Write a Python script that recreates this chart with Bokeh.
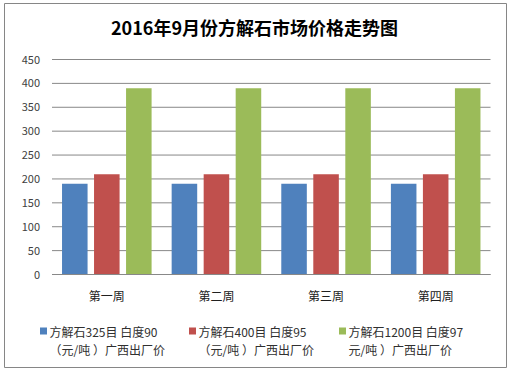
from bokeh.plotting import figure
from bokeh.models import Range1d, ColumnDataSource
from bokeh.core.properties import value
from bokeh.embed import file_html
from bokeh.resources import INLINE

# ---- data ----
categories = ["第一周", "第二周", "第三周", "第四周"]
legend_line1 = ["方解石325目 白度90", "方解石400目 白度95", "方解石1200目 白度97"]
legend_line2 = ["（元/吨 ）广西出厂价", "（元/吨 ）广西出厂价", "元/吨 ）广西出厂价"]
s325 = [190, 190, 190, 190]
s400 = [210, 210, 210, 210]
s1200 = [390, 390, 390, 390]
y_ticks = [0, 50, 100, 150, 200, 250, 300, 350, 400, 450]
title_text = "2016年9月份方解石市场价格走势图"

colors = ["#4F81BD", "#C0504D", "#9BBB59"]
FONT = "Noto Sans CJK SC"
GRID = "#888888"

# ---- layout (page pixels) ----
OX, OY = 4, 3            # figure offset in page (border position)
W, H = 503, 365          # figure size; its outline is the chart border
PX0, PX1 = 51.5, 490.0   # page x of category axis start / end
PY0, PY1 = 274.0, 59.0   # page y of value 0 / 450
ppx = (PX1 - PX0) / len(categories)
ppy = (PY0 - PY1) / 450.0

def X(px):
    return (px - PX0) / ppx

def Y(py):
    return (PY0 - py) / ppy

p = figure(width=W, height=H, output_backend="svg", toolbar_location=None,
           x_range=Range1d(X(OX), X(OX + W)), y_range=Range1d(Y(OY + H), Y(OY)),
           x_axis_location=None, y_axis_location=None,
           min_border=0, min_border_left=0, min_border_right=0,
           min_border_top=0, min_border_bottom=0,
           styles={"margin-left": f"{OX}px", "margin-top": f"{OY}px"})
p.grid.visible = False
p.outline_line_color = "#868686"
p.outline_line_width = 1
p.background_fill_color = "white"
p.border_fill_color = "white"

# grid lines at the value ticks across the category extent
p.segment(x0=0, x1=len(categories), y0=y_ticks, y1=y_ticks,
          line_color=GRID, line_width=1)

# bars
xc = [i + 0.5 for i in range(len(categories))]
bw = 0.233
offs = [-0.292, 0.0, 0.292]
for k, vals in enumerate([s325, s400, s1200]):
    src = ColumnDataSource(dict(x=[c + offs[k] for c in xc], top=vals))
    p.vbar(x="x", top="top", bottom=0, width=bw, source=src,
           fill_color=colors[k], line_color=None)

# category axis line
p.segment(x0=[0], x1=[len(categories)], y0=[0], y1=[0], line_color=GRID, line_width=1)

# value tick labels
p.text(x=[0] * len(y_ticks), y=y_ticks, text=[str(t) for t in y_ticks],
       x_offset=-12, text_align="right", text_baseline="middle",
       text_font=value(FONT), text_font_size="11px", text_color="#404040")

# category labels
p.text(x=xc, y=[0] * len(xc), text=categories, y_offset=21,
       text_align="center", text_baseline="middle",
       text_font=value(FONT), text_font_size="12px", text_color="#202020")

# title
p.text(x=[X(254)], y=[Y(26)], text=[title_text], text_align="center",
       text_baseline="middle", text_font=value(FONT), text_font_size="18px",
       text_font_style="bold", text_color="#000000")

# legend
sq_px = [43, 192, 342]
tx_px = [49, 198, 348]
p.rect(x=[X(v) for v in sq_px], y=[Y(330.5)] * 3, width=7, height=7,
       width_units="screen", height_units="screen",
       fill_color=colors, line_color=None)
p.text(x=[X(v) for v in tx_px], y=[Y(331)] * 3, text=legend_line1,
       text_align="left", text_baseline="middle", text_font=value(FONT),
       text_font_size="12px", text_color="#303030")
p.text(x=[X(v) for v in tx_px], y=[Y(348.5)] * 3, text=legend_line2,
       text_align="left", text_baseline="middle", text_font=value(FONT),
       text_font_size="12px", text_color="#303030")

open("out.html", "w").write(file_html(p, INLINE))
